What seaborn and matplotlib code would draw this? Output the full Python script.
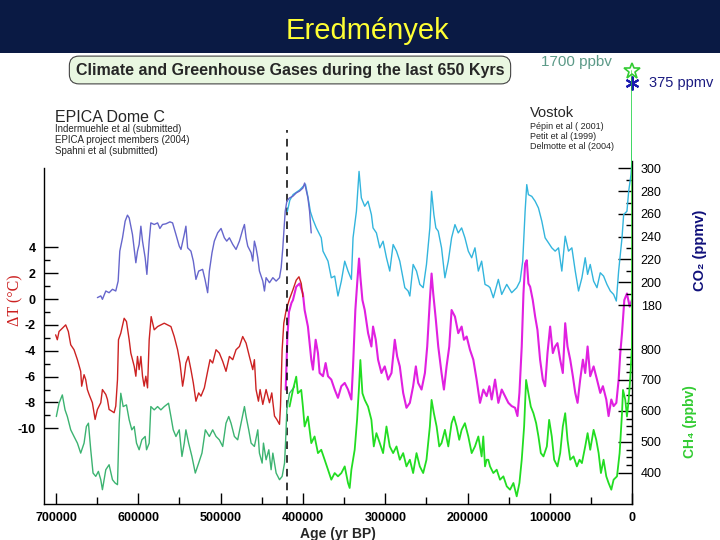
import numpy as np
import matplotlib
matplotlib.use("Agg")
import matplotlib.pyplot as plt
from matplotlib.patches import Rectangle
from matplotlib.ticker import FixedLocator
import seaborn as sns

# ---------------- data (ages in kyr BP) ----------------
epica_co2_age = [649.7, 645.6, 643.6, 639.5, 635.5, 631.4, 627.4, 624.5, 622.5, 619.2,
                 616.0, 613.2, 611.1, 607.1, 603.0, 601.0, 599.0, 596.9, 594.9, 591.7,
                 589.6, 586.8, 584.8, 580.7, 576.6, 573.8, 570.6, 566.5, 561.6, 558.4,
                 554.3, 550.3, 548.2, 544.2, 542.2, 540.1, 536.1, 533.2, 530.0, 526.7,
                 521.9, 519.0, 515.8, 513.7, 510.5, 507.7, 503.6, 499.5, 495.5, 492.6,
                 489.4, 485.3, 481.3, 477.2, 473.2, 471.1, 469.1, 467.1, 463.0, 461.0,
                 459.0, 457.0, 454.9, 452.9, 448.8, 446.8, 444.8, 440.7, 436.6, 432.6,
                 428.5, 426.5, 424.5, 421.6, 419.6, 416.4, 412.3, 408.2, 404.2, 400.1,
                 398.0, 394.0, 392.0, 390.0]
epica_co2 = [186.5, 188.0, 185.0, 192.3, 190.8, 193.8, 192.3, 201.0, 227.3, 239.0,
             253.6, 258.9, 256.5, 241.9, 217.1, 227.3, 233.2, 249.2, 236.1, 221.5,
             206.9, 236.1, 252.1, 250.7, 252.1, 247.2, 250.7, 251.3, 253.0, 252.1,
             241.9, 231.7, 228.8, 241.9, 249.2, 230.2, 227.3, 218.6, 202.5, 209.8,
             211.3, 202.5, 190.8, 209.8, 225.9, 236.1, 243.4, 247.2, 239.0, 236.1,
             239.0, 233.2, 228.8, 236.1, 246.3, 250.7, 239.0, 231.7, 225.9, 218.6,
             236.1, 230.2, 221.5, 209.8, 201.0, 192.3, 204.0, 199.6, 204.0, 201.0,
             204.0, 212.7, 230.2, 262.3, 271.1, 274.0, 275.5, 278.4, 280.0, 282.7,
             287.1, 274.0, 262.3, 243.3]

vostok_co2_age = [419.0, 416.0, 412.0, 408.0, 404.0, 400.0, 397.0, 394.0, 391.0, 387.9,
                  383.8, 377.8, 375.7, 369.6, 365.6, 361.5, 357.5, 353.4, 349.3, 345.3,
                  341.2, 339.2, 335.1, 331.9, 329.1, 325.0, 321.0, 316.9, 314.9, 310.8,
                  306.7, 302.7, 298.6, 294.6, 290.5, 286.4, 282.4, 276.3, 272.3, 270.2,
                  266.2, 262.1, 258.1, 254.0, 250.0, 245.9, 243.8, 241.0, 238.6, 235.7,
                  231.7, 227.6, 223.5, 219.5, 215.4, 211.4, 207.3, 203.3, 199.2, 195.1,
                  191.1, 187.0, 183.0, 178.9, 174.9, 172.8, 168.8, 162.7, 158.6, 152.5,
                  146.5, 140.4, 136.3, 133.1, 130.2, 128.2, 126.2, 122.1, 118.0, 114.0,
                  109.9, 105.9, 101.8, 97.8, 93.7, 89.6, 85.6, 81.5, 77.5, 73.4,
                  69.3, 65.3, 61.2, 57.2, 54.3, 51.1, 47.0, 42.9, 38.9, 34.9,
                  30.8, 26.7, 22.7, 19.4, 16.6, 12.5, 10.5, 6.5, 4.4, 1.6,
                  0.4, 0.2, 0.0]
vostok_co2 = [262.0, 272.0, 277.0, 279.0, 281.0, 284.0, 286.0, 275.0, 262.0, 255.0,
              247.7, 239.0, 227.3, 218.5, 203.9, 205.4, 187.9, 201.0, 218.5, 209.8,
              202.5, 239.0, 262.3, 297.3, 274.0, 266.7, 271.1, 259.4, 247.7, 243.3,
              230.2, 236.0, 221.5, 209.8, 233.1, 227.3, 218.5, 195.2, 192.3, 187.9,
              215.6, 209.8, 198.1, 195.2, 215.6, 247.7, 279.8, 259.4, 247.7, 244.8,
              230.2, 203.9, 218.5, 239.0, 250.6, 243.3, 247.7, 239.0, 227.3, 221.5,
              230.2, 209.8, 218.5, 198.1, 196.6, 195.2, 186.4, 202.5, 189.3, 198.1,
              190.8, 195.2, 201.0, 218.5, 262.3, 285.7, 276.9, 275.4, 271.1, 265.2,
              253.6, 239.0, 234.6, 230.2, 227.3, 230.2, 209.8, 240.4, 227.3, 230.2,
              209.8, 192.3, 203.9, 221.5, 206.9, 215.6, 201.0, 195.2, 208.3, 205.4,
              198.1, 192.3, 189.3, 183.5, 209.8, 239.0, 259.4, 262.3, 279.8, 294.4,
              306.1, 330.0, 375.0]

epica_t_age = [700.4, 698.4, 696.3, 692.3, 688.2, 685.0, 682.1, 678.1, 674.0, 670.0,
               668.8, 665.9, 663.9, 661.9, 659.8, 655.8, 652.5, 649.7, 645.6, 643.6,
               639.5, 637.5, 635.5, 632.2, 629.4, 627.4, 625.3, 624.1, 621.3, 617.2,
               614.4, 611.1, 609.1, 605.0, 603.0, 601.0, 599.0, 596.9, 594.9, 592.9,
               590.9, 588.8, 586.8, 584.4, 580.7, 576.6, 572.6, 568.5, 564.5, 560.4,
               556.4, 552.3, 549.4, 546.2, 544.2, 542.2, 539.3, 536.1, 533.2, 530.0,
               526.7, 523.9, 519.8, 515.8, 512.9, 509.7, 505.6, 501.6, 497.5, 493.5,
               489.4, 485.3, 481.3, 477.2, 473.2, 469.1, 465.1, 461.0, 459.0, 457.0,
               454.1, 452.1, 448.8, 444.8, 440.7, 437.9, 434.6, 431.8, 428.5, 427.3,
               425.3, 423.3, 420.4, 416.4, 412.3, 408.2, 404.9, 402.1, 400.1]
epica_t = [-2.77, -3.15, -2.51, -2.26, -2.00, -2.51, -3.54, -3.92, -4.69, -5.59,
           -6.74, -5.85, -6.23, -7.00, -7.38, -8.02, -9.31, -8.54, -8.02, -7.00,
           -7.38, -7.77, -8.54, -8.67, -8.79, -8.28, -6.23, -3.15, -2.64, -1.49,
           -1.74, -3.15, -4.18, -5.20, -5.97, -4.44, -5.46, -4.44, -5.97, -6.74,
           -5.97, -6.87, -3.15, -1.36, -2.38, -2.13, -2.00, -1.87, -2.00, -2.13,
           -2.90, -3.92, -4.95, -6.74, -5.97, -4.95, -4.44, -5.46, -6.49, -7.90,
           -7.26, -7.51, -6.87, -5.59, -4.69, -4.95, -3.92, -4.18, -4.82, -5.59,
           -4.44, -4.69, -3.92, -3.67, -2.90, -3.41, -4.44, -5.46, -4.69, -7.00,
           -7.90, -7.00, -8.15, -7.00, -8.02, -7.26, -9.05, -9.31, -9.69, -8.28,
           -3.92, -1.87, -0.85, 0.00, 0.70, 1.46, 1.72, 1.20, 0.18]

vostok_t_age = [421.0, 419.0, 417.0, 414.0, 412.2, 408.2, 404.1, 400.1, 398.0, 394.0,
                389.9, 387.9, 384.6, 381.8, 379.8, 375.7, 372.5, 369.6, 365.6, 361.5,
                357.5, 353.4, 349.3, 345.3, 341.2, 339.2, 336.4, 333.9, 331.9, 330.3,
                327.8, 325.0, 320.9, 316.9, 314.9, 311.6, 308.8, 304.7, 300.7, 296.6,
                292.5, 288.5, 285.6, 282.4, 278.3, 274.3, 270.2, 266.2, 262.9, 260.1,
                256.0, 251.9, 249.1, 245.9, 243.8, 241.8, 238.6, 235.7, 231.7, 228.8,
                225.6, 222.3, 219.5, 215.4, 211.4, 207.3, 204.5, 201.2, 197.2, 193.1,
                189.1, 185.0, 180.9, 176.9, 173.6, 170.8, 166.7, 162.7, 158.6, 154.6,
                150.5, 146.5, 142.4, 139.5, 137.1, 134.3, 132.2, 130.2, 128.2, 126.2,
                124.1, 120.9, 118.0, 115.2, 112.0, 108.7, 105.9, 103.0, 99.8, 96.5,
                93.7, 90.9, 87.6, 84.4, 81.5, 78.7, 75.4, 72.2, 69.3, 66.5,
                63.3, 60.0, 57.2, 54.3, 51.1, 47.0, 42.9, 38.9, 35.7, 31.6,
                28.8, 25.5, 22.7, 19.4, 16.6, 14.6, 12.5, 9.7, 6.5, 3.2,
                0.4]
vostok_t = [-7.00, -3.00, -1.00, -0.30, -0.08, 0.95, 1.20, 0.43, -0.85, -2.13,
            -4.69, -5.46, -3.15, -4.18, -5.72, -5.97, -4.95, -5.97, -6.23, -7.00,
            -7.64, -6.74, -6.49, -7.00, -7.77, -5.21, -0.85, 1.46, 3.13, 1.72,
            -0.08, -0.85, -2.64, -3.67, -2.13, -3.15, -4.69, -5.72, -5.21, -6.23,
            -5.72, -3.15, -4.44, -5.21, -7.26, -8.41, -8.03, -6.74, -5.21, -6.49,
            -7.00, -5.72, -3.67, -0.08, 1.97, 0.43, -1.62, -3.67, -5.72, -7.00,
            -5.21, -3.67, -0.85, -1.36, -2.64, -2.13, -3.15, -2.90, -3.92, -4.69,
            -6.23, -8.03, -7.00, -7.51, -6.74, -7.77, -6.23, -8.03, -7.00, -7.51,
            -8.03, -8.28, -8.41, -9.05, -7.26, -3.67, 0.43, 2.74, 3.00, 1.20,
            0.95, -0.08, -1.36, -2.39, -4.69, -6.23, -6.74, -4.18, -2.13, -4.18,
            -3.67, -3.41, -4.69, -5.72, -1.87, -3.67, -4.69, -5.97, -7.26, -8.03,
            -6.23, -4.69, -5.72, -3.67, -5.97, -5.21, -6.23, -7.26, -6.74, -7.77,
            -9.05, -7.77, -8.28, -8.03, -6.23, -4.18, -2.64, -0.08, 0.43, -0.59,
            -0.08]

epica_ch4_age = [699.6, 696.3, 692.3, 689.0, 686.2, 682.1, 678.1, 674.0, 670.0, 665.9,
                 663.1, 660.6, 657.8, 655.0, 651.7, 648.5, 645.6, 643.6, 639.5, 635.5,
                 631.4, 628.2, 625.3, 623.3, 621.3, 618.4, 614.4, 611.1, 607.9, 605.0,
                 602.2, 599.0, 595.7, 591.7, 590.0, 586.8, 584.8, 580.7, 576.6, 572.6,
                 568.5, 563.3, 560.4, 557.6, 554.3, 550.3, 547.0, 544.2, 542.2, 538.9,
                 534.9, 530.8, 526.7, 522.7, 518.6, 513.7, 509.7, 505.6, 501.6, 497.5,
                 493.5, 490.2, 487.4, 483.3, 479.3, 475.2, 471.1, 469.1, 465.9, 463.0,
                 459.0, 454.9, 452.9, 449.6, 448.0, 444.8, 441.5, 438.7, 436.6, 432.6,
                 428.5, 425.3, 422.4, 421.2, 419.6, 416.4, 410.3]
epica_ch4 = [581.7, 624.7, 651.6, 603.2, 581.7, 538.7, 517.2, 495.7, 463.4, 495.7,
             549.4, 560.2, 474.2, 398.9, 388.2, 404.3, 377.4, 345.1, 409.7, 425.8,
             377.4, 366.7, 361.3, 560.2, 657.0, 613.9, 619.3, 571.0, 538.7, 549.4,
             495.7, 474.2, 506.4, 517.2, 474.2, 495.7, 613.9, 603.2, 613.9, 603.2,
             613.9, 624.7, 581.7, 538.7, 517.2, 538.7, 452.6, 495.7, 538.7, 495.7,
             452.6, 398.9, 431.1, 463.4, 538.7, 517.2, 538.7, 517.2, 506.4, 484.9,
             560.2, 581.7, 560.2, 517.2, 506.4, 560.2, 613.9, 581.7, 538.7, 495.7,
             484.9, 538.7, 463.4, 431.1, 495.7, 441.9, 474.2, 409.7, 463.4, 398.9,
             377.4, 388.2, 431.1, 495.7, 603.2, 657.0, 678.5]

vostok_ch4_age = [416.3, 412.2, 408.2, 406.2, 402.1, 400.1, 398.0, 394.0, 389.9, 385.9,
                  381.8, 377.8, 373.7, 369.6, 365.6, 361.5, 357.5, 353.4, 349.3, 345.3,
                  343.3, 341.2, 337.2, 334.3, 331.9, 330.3, 327.8, 325.0, 321.0, 316.9,
                  314.0, 310.8, 306.7, 302.7, 298.6, 294.6, 290.5, 286.4, 282.4, 278.3,
                  274.3, 270.2, 266.2, 262.1, 258.1, 254.0, 250.0, 245.9, 243.8, 241.0,
                  237.7, 234.5, 231.7, 227.6, 223.5, 219.5, 216.7, 213.4, 210.2, 207.3,
                  203.3, 199.2, 195.1, 191.1, 187.0, 183.0, 181.0, 178.9, 176.9, 174.9,
                  172.8, 168.8, 164.7, 160.7, 156.6, 152.5, 148.5, 144.4, 140.4, 137.1,
                  134.3, 131.4, 129.0, 126.2, 123.3, 120.1, 116.8, 114.0, 111.1, 107.9,
                  103.8, 101.0, 97.8, 94.9, 90.9, 87.6, 84.4, 81.5, 78.7, 75.4,
                  71.4, 67.3, 64.1, 61.2, 57.2, 54.3, 51.1, 47.0, 43.8, 40.9,
                  38.1, 34.9, 31.6, 28.8, 25.5, 22.7, 18.6, 15.4, 12.5, 11.3,
                  8.5, 6.5, 4.4, 2.4, 0.4, 0.2, 0.0]
vostok_ch4 = [614.0, 667.7, 710.7, 657.0, 667.7, 614.0, 549.5, 581.7, 495.7, 517.2,
              463.4, 474.2, 442.0, 409.7, 377.4, 398.9, 388.2, 398.9, 420.4, 366.7,
              350.6, 409.7, 474.2, 571.0, 678.5, 764.5, 657.0, 635.5, 614.0, 571.0,
              485.0, 528.0, 495.7, 463.4, 549.5, 485.0, 463.4, 485.0, 442.0, 463.4,
              420.4, 442.0, 398.9, 463.4, 420.4, 398.9, 442.0, 549.5, 635.5, 592.5,
              549.5, 485.0, 495.7, 538.7, 485.0, 560.2, 581.7, 549.5, 506.4, 538.7,
              560.2, 517.2, 463.4, 485.0, 517.2, 452.7, 517.2, 420.4, 442.0, 442.0,
              420.4, 398.9, 409.7, 377.4, 388.2, 355.9, 345.1, 366.7, 323.6, 366.7,
              442.0, 549.5, 700.0, 657.0, 614.0, 592.5, 560.2, 517.2, 463.4, 452.7,
              485.0, 571.0, 517.2, 442.0, 420.4, 463.4, 549.5, 592.5, 506.4, 442.0,
              452.7, 420.4, 442.0, 431.1, 485.0, 528.0, 474.2, 538.7, 506.4, 463.4,
              398.9, 442.0, 388.2, 366.7, 345.1, 377.4, 388.2, 463.4, 592.5, 667.7,
              635.5, 581.7, 635.5, 710.7, 807.5, 1000.0, 1700.0]

modern_ch4 = 1700.0
modern_co2 = 375.0
vostok_start = 420000

x_ticks = [700000, 600000, 500000, 400000, 300000, 200000, 100000, 0]
t_ticks = [4, 2, 0, -2, -4, -6, -8, -10]
co2_ticks = [300, 280, 260, 240, 220, 200, 180]
ch4_ticks = [800, 700, 600, 500, 400]

# ---------------- style ----------------
sns.set_theme(style="white")
plt.rcParams["font.family"] = ["Liberation Sans", "DejaVu Sans"]
plt.rcParams["axes.edgecolor"] = "black"
plt.rcParams["xtick.color"] = "black"
plt.rcParams["ytick.color"] = "black"

fig = plt.figure(figsize=(7.2, 5.4), dpi=100)
fig.patch.set_facecolor("white")

# header band
fig.add_artist(Rectangle((0, 1 - 53 / 540), 1, 53 / 540, transform=fig.transFigure,
                         facecolor="#0a1a44", edgecolor="none", zorder=0))
fig.text(367 / 720, 1 - 31 / 540, "Eredmények", color="#ffff33", fontsize=21,
         ha="center", va="center")

ax = fig.add_axes([44.3 / 720, 1 - 504 / 540, 588 / 720, 449 / 540])
ax.set_facecolor("none")
ax_co2 = ax.twinx()
ax_ch4 = ax.twinx()

def draw(a, ages, vals, color, lw):
    sns.lineplot(x=np.asarray(ages) * 1000.0, y=np.asarray(vals), ax=a, color=color,
                 lw=lw, estimator=None, sort=False)

# temperature
draw(ax, vostok_t_age, vostok_t, "#e020e0", 1.5)
draw(ax, epica_t_age, epica_t, "#cc2222", 1.0)
# CO2
draw(ax_co2, vostok_co2_age, vostok_co2, "#33b5dd", 1.0)
draw(ax_co2, epica_co2_age, epica_co2, "#6666cc", 1.0)
# CH4
draw(ax_ch4, epica_ch4_age, epica_ch4, "#3cb371", 1.0)
draw(ax_ch4, vostok_ch4_age, vostok_ch4, "#22dd22", 1.3)

for a in (ax, ax_co2, ax_ch4):
    a.set_xlim(714200, 0)
    a.set_xlabel("")
    a.set_ylabel("")
ax.set_ylim(-15.85, 18.87)
ax_co2.set_ylim(5.3, 399.5)
ax_ch4.set_ylim(298.8, 1751)

# spines
for s in ("top", "right"):
    ax.spines[s].set_visible(False)
ax.spines["left"].set_bounds(-15.85, 10.1)
for s in ("top", "left", "bottom"):
    ax_co2.spines[s].set_visible(False)
ax_co2.spines["right"].set_bounds(5.3, 306)
for s in ("top", "left", "bottom", "right"):
    ax_ch4.spines[s].set_visible(False)
for a in (ax, ax_co2):
    for sp in a.spines.values():
        sp.set_color("black")
        sp.set_linewidth(1.0)

# ticks
ax.set_xticks(x_ticks)
ax.set_xticklabels([str(v) for v in x_ticks])
ax.xaxis.set_minor_locator(FixedLocator([650000, 550000, 450000, 350000, 250000, 150000, 50000]))
ax.tick_params(axis="x", which="major", direction="in", length=8, width=1,
               pad=6, labelsize=9, bottom=True, top=False)
ax.tick_params(axis="x", which="minor", direction="in", length=5, width=1, bottom=True)
ax.set_yticks(t_ticks)
ax.set_yticklabels([str(v) for v in t_ticks])
ax.yaxis.set_minor_locator(FixedLocator([3, 1, -1, -3, -5, -7, -9]))
ax.tick_params(axis="y", which="major", direction="in", length=10, width=1,
               pad=6, labelsize=9, left=True, right=False)
ax.tick_params(axis="y", which="minor", direction="in", length=4, width=1, left=True)
for lbl in ax.get_xticklabels() + ax.get_yticklabels():
    lbl.set_fontweight("bold")

ax_co2.set_yticks(co2_ticks)
ax_co2.set_yticklabels([str(v) for v in co2_ticks])
ax_co2.yaxis.set_minor_locator(FixedLocator([290, 270, 250, 230, 210, 190]))
ax_co2.tick_params(axis="y", which="major", direction="in", length=10, width=1,
                   pad=6, labelsize=9, right=True, left=False, labelright=True, labelleft=False)
ax_co2.tick_params(axis="y", which="minor", direction="in", length=4, width=1, right=True)

ax_ch4.set_yticks(ch4_ticks)
ax_ch4.set_yticklabels([str(v) for v in ch4_ticks])
ax_ch4.yaxis.set_minor_locator(FixedLocator([775, 750, 725, 675, 650, 625, 575, 550, 525,
                                             475, 450, 425]))
ax_ch4.tick_params(axis="y", which="major", direction="in", length=10, width=1,
                   pad=6, labelsize=9, right=True, left=False, labelright=True, labelleft=False)
ax_ch4.tick_params(axis="y", which="minor", direction="in", length=4, width=1, right=True)

ax.set_xlabel("Age (yr BP)", fontweight="bold", fontsize=10, labelpad=2)

# Vostok start marker
ax.axvline(vostok_start, ymin=0, ymax=(504 - 130) / 449, color="black",
           ls=(0, (5, 4)), lw=1.1)

# modern values
ax_ch4.plot([0], [modern_ch4], marker="*", ms=12, mfc="none", mec="#33cc33", mew=1.2,
            clip_on=False, ls="none")
ax_co2.plot([0], [modern_co2], marker=(6, 2, 0), ms=10, color="#1a1ab0", mew=1.5,
            clip_on=False, ls="none")
ax_co2.annotate("375 ppmv", (0, modern_co2), xytext=(12, 0), textcoords="offset points",
                va="center", ha="left", fontsize=10.5, color="#1a1a80",
                annotation_clip=False)
ax_ch4.annotate("1700 ppbv", (0, modern_ch4), xytext=(-66, 6), textcoords="offset points",
                va="center", ha="left", fontsize=11, color="#5c9a88",
                annotation_clip=False)

# axis labels
fig.text(15 / 720, 1 - 300 / 540, "ΔT (°C)", rotation=90, color="#cc2020", fontsize=11.5,
         family=["Liberation Serif", "DejaVu Serif"], ha="center", va="center")
fig.text(700 / 720, 1 - 250 / 540, "CO₂ (ppmv)", rotation=90, color="#10107a",
         fontweight="bold", fontsize=10.5, ha="center", va="center")
fig.text(690 / 720, 1 - 422 / 540, "CH₄ (ppbv)", rotation=90, color="#33cc33",
         fontweight="bold", fontsize=10, ha="center", va="center")

# title box and source texts
fig.text(290 / 720, 1 - 70 / 540, "Climate and Greenhouse Gases during the last 650 Kyrs",
         ha="center", va="center", fontsize=11.5, fontweight="bold",
         bbox=dict(boxstyle="round,pad=0.4,rounding_size=0.6", fc="#e9f7e1",
                   ec="#444444", lw=0.8))
fig.text(55 / 720, 1 - 117 / 540, "EPICA Dome C", fontsize=11.5, ha="left", va="center")
for i, s in enumerate(["Indermuehle et al (submitted)", "EPICA project members (2004)",
                       "Spahni et al (submitted)"]):
    fig.text(55 / 720, 1 - (129 + 11 * i) / 540, s, fontsize=7, ha="left", va="center")
fig.text(530 / 720, 1 - 113 / 540, "Vostok", fontsize=10.5, ha="left", va="center")
for i, s in enumerate(["Pépin et al ( 2001)", "Petit et al (1999)", "Delmotte et al (2004)"]):
    fig.text(530 / 720, 1 - (126 + 10.5 * i) / 540, s, fontsize=6.5, ha="left", va="center")

fig.savefig("out.png", dpi=100)
